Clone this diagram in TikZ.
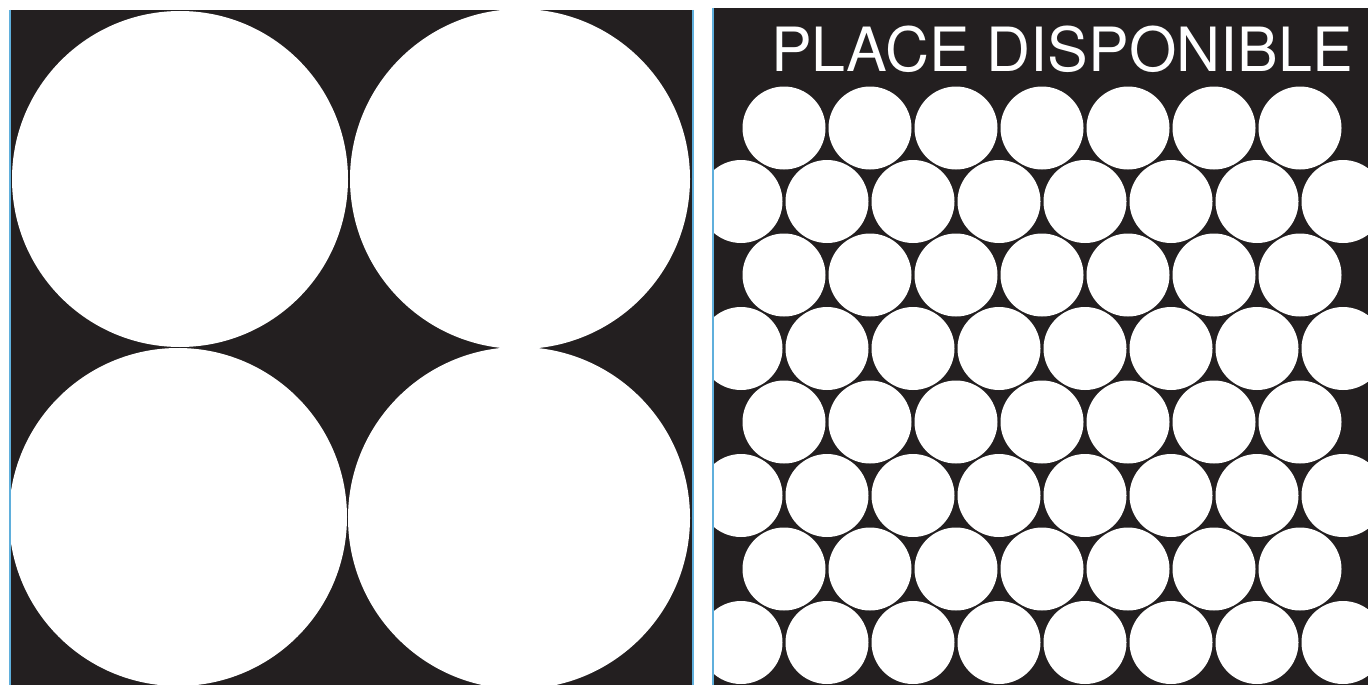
\documentclass[tikz,border=0pt]{standalone}
\usepackage{fontspec}
\setmainfont{TeX Gyre Heros}
\definecolor{ink}{RGB}{35,31,32}
\definecolor{rimblue}{RGB}{95,175,220}
\begin{document}
\begin{tikzpicture}[x=1pt, y=-1pt,
    panel/.style={fill=ink},
    disc/.style={fill=white},
    rim/.style={draw=rimblue, line width=1.6pt},
    caption/.style={text=white, inner sep=0pt, font=\fontsize{61}{61}\selectfont}
]
    \useasboundingbox (0,0) rectangle (1368,685);

    % Left panel: four large discs
    \fill[panel] (10,10) rectangle (693,685);
    \begin{scope}
        \clip (10,10) rectangle (693,685);
        \foreach \cx/\cy/\r in {180/179/168, 520/179/170, 178/517/169, 519/518/171}
            \fill[disc] (\cx,\cy) circle[radius=\r pt];
    \end{scope}

    % Right panel: close-packed small discs
    \fill[panel] (713,8) rectangle (1368,685);
    \begin{scope}
        \clip (713,8) rectangle (1368,685);
        \foreach \row in {0,2,4,6}
            \foreach \col in {0,...,6}
                \fill[disc] ({784+86*\col},{128+73.5*\row}) circle[radius=41.5pt];
        \foreach \row in {1,3,5,7}
            \foreach \col in {0,...,7}
                \fill[disc] ({741+86*\col},{128+73.5*\row}) circle[radius=41.5pt];
    \end{scope}
    \node[caption, anchor=base] (title) at (1062,72) {PLACE DISPONIBLE};

    % thin blue edges
    \draw[rim] (10,10) -- (10,685);
    \draw[rim] (693,10) -- (693,685);
    \draw[rim] (713,8) -- (713,685);
\end{tikzpicture}
\end{document}
